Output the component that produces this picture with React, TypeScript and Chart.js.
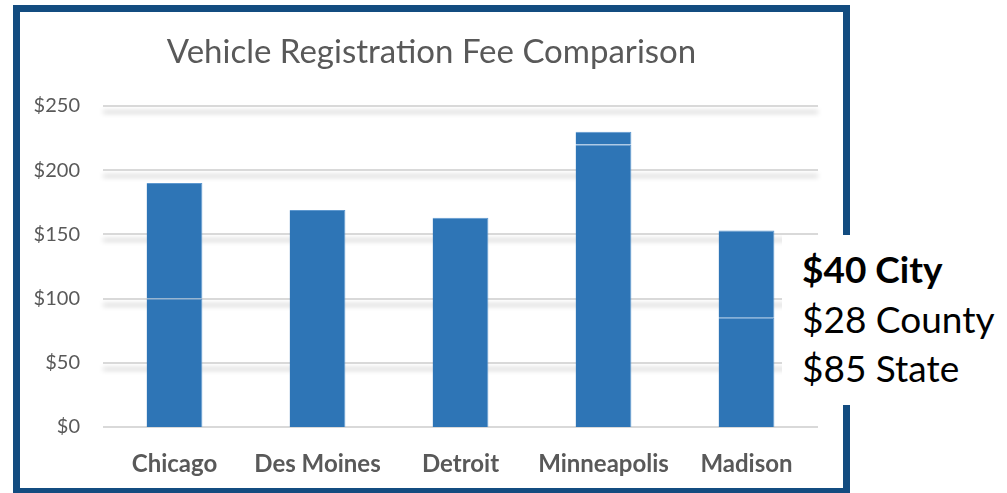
import React, { useEffect, useRef } from "react";
import { Chart, registerables } from "chart.js";

Chart.register(...registerables);

const categories = ["Chicago", "Des Moines", "Detroit", "Minneapolis", "Madison"];
const lowerFees: (number | null)[] = [100, 169, 163, 220, 85];
const upperFees: (number | null)[] = [90, null, null, 10, 68];
const yTicks = [0, 50, 100, 150, 200, 250];
const titleText = "Vehicle Registration Fee Comparison";
const noteLines = ["$40 City", "$28 County", "$85 State"];

const FONT = "Lato, 'Open Sans', sans-serif";
const BAR = "#2E75B6";
const EDGE = "#5E98CF";

const shadowGrid = {
  id: "shadowGrid",
  beforeDatasetsDraw(chart: any) {
    const { ctx, chartArea, scales } = chart;
    const y = scales.y;
    yTicks.forEach((v) => {
      const py = Math.round(y.getPixelForValue(v));
      ctx.save();
      if (v !== 0) {
        ctx.shadowColor = "rgba(0,0,0,0.25)";
        ctx.shadowBlur = 5;
        ctx.shadowOffsetY = 6;
      }
      ctx.strokeStyle = "#D9D9D9";
      ctx.lineWidth = 2;
      ctx.beginPath();
      ctx.moveTo(chartArea.left, py);
      ctx.lineTo(chartArea.right, py);
      ctx.stroke();
      ctx.restore();
    });
  },
};

const centeredTitle = {
  id: "centeredTitle",
  afterDraw(chart: any) {
    const { ctx } = chart;
    ctx.save();
    ctx.fillStyle = "#595959";
    ctx.font = `normal 33px ${FONT}`;
    ctx.textAlign = "center";
    ctx.textBaseline = "alphabetic";
    ctx.fillText(titleText, chart.width / 2, 63);
    ctx.restore();
  },
};

export default function App() {
  const ref = useRef<HTMLCanvasElement>(null);
  useEffect(() => {
    if (!ref.current) return;
    const chart = new Chart(ref.current, {
      type: "bar",
      data: {
        labels: categories,
        datasets: [
          {
            label: "Base",
            data: lowerFees,
            backgroundColor: BAR,
            borderColor: EDGE,
            borderWidth: { top: 1, right: 1, left: 0, bottom: 0 },
            borderSkipped: false,
            barPercentage: 0.39,
            categoryPercentage: 1,
          },
          {
            label: "Added",
            data: upperFees,
            backgroundColor: BAR,
            borderColor: EDGE,
            borderWidth: { top: 1, right: 1, left: 0, bottom: 0 },
            borderSkipped: false,
            barPercentage: 0.39,
            categoryPercentage: 1,
          },
        ],
      },
      options: {
        responsive: false,
        animation: false,
        layout: { padding: { left: 0, right: 32, top: 106, bottom: 6 } },
        plugins: {
          legend: { display: false },
          tooltip: { enabled: false },
          title: { display: false },
        },
        scales: {
          x: {
            stacked: true,
            grid: { display: false, drawTicks: false },
            border: { display: false },
            ticks: {
              color: "#595959",
              font: { family: FONT, size: 24, weight: "bold" },
              padding: 23,
              maxRotation: 0,
            },
            afterFit: (s: any) => {
              s.height = 60;
            },
          },
          y: {
            stacked: true,
            min: 0,
            max: 250,
            grid: { display: false, drawTicks: false },
            border: { display: false },
            ticks: {
              stepSize: 50,
              color: "#595959",
              font: { family: FONT, size: 20 },
              padding: 23,
              callback: (v: any) => "$" + v,
            },
            afterFit: (s: any) => {
              s.width = 90;
            },
          },
        },
      },
      plugins: [shadowGrid, centeredTitle],
    });
    return () => chart.destroy();
  }, []);

  return (
    <div
      style={{
        position: "fixed",
        left: 0,
        top: 0,
        width: 1007,
        height: 493,
        background: "#fff",
        overflow: "hidden",
      }}
    >
      <div
        style={{
          position: "absolute",
          left: 13,
          top: 5,
          width: 837,
          height: 490,
          boxSizing: "border-box",
          border: "7px solid #134C80",
        }}
      />
      <canvas
        ref={ref}
        width={837}
        height={493}
        style={{ position: "absolute", left: 13, top: 0, width: 837, height: 493 }}
      />
      <div
        style={{
          position: "absolute",
          left: 782,
          top: 235,
          width: 225,
          height: 170,
          background: "#fff",
          boxSizing: "border-box",
          paddingTop: 9,
          paddingLeft: 20,
          fontFamily: FONT,
          fontSize: 37,
          lineHeight: "49.5px",
          color: "#000",
          whiteSpace: "nowrap",
        }}
      >
        {noteLines.map((t, i) => (
          <div key={i} style={{ fontWeight: i === 0 ? "bold" : "normal" }}>
            {t}
          </div>
        ))}
      </div>
    </div>
  );
}
